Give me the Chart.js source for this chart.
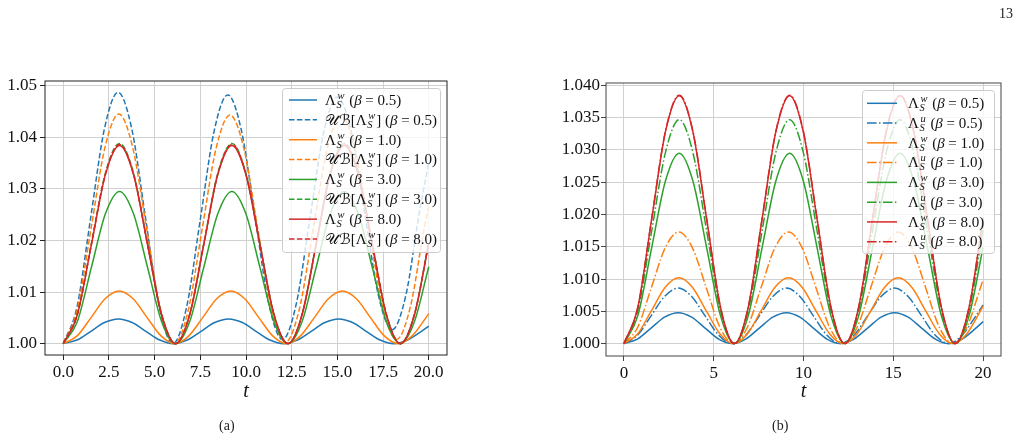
<!DOCTYPE html>
<html>
<head>
<meta charset="utf-8">
<script src="https://cdn.jsdelivr.net/npm/chart.js@4.4.0/dist/chart.umd.min.js"></script>
<style>
  body { margin: 0; width: 1019px; height: 439px; background: #fff; position: relative; overflow: hidden; font-family: 'Liberation Serif', serif; color: #222; }
  canvas { position: absolute; top: 0; }
  #chartA { left: 0; }
  #chartB { left: 520px; }
  .cap { position: absolute; font-size: 14px; line-height: 14px; }
</style>
</head>
<body>
<canvas id="chartA" width="520" height="439"></canvas>
<canvas id="chartB" width="499" height="439"></canvas>
<div class="cap" style="left:999px;top:7px">13</div>
<div class="cap" style="left:219px;top:419px">(a)</div>
<div class="cap" style="left:772px;top:419px">(b)</div>
<script>
// ==================== DANE ====================

// chwile t (minima, maksima i punkty pośrednie) dla każdej rodziny krzywych
const tB05 = [0, 0.75, 1.51, 2.26, 3.02, 3.77, 4.52, 5.28, 6.03, 6.78, 7.54, 8.29, 9.05, 9.80, 10.55, 11.31, 12.06, 12.81, 13.57, 14.32, 15.08, 15.83, 16.58, 17.34, 18.09, 18.84, 19.60, 20.0];
const tB10 = [0, 0.76, 1.53, 2.29, 3.06, 3.82, 4.58, 5.35, 6.11, 6.87, 7.64, 8.40, 9.17, 9.93, 10.69, 11.46, 12.22, 12.98, 13.75, 14.51, 15.28, 16.04, 16.80, 17.57, 18.33, 19.09, 19.86, 20.0];
const tB30 = [0, 0.77, 1.54, 2.31, 3.08, 3.84, 4.61, 5.38, 6.15, 6.92, 7.69, 8.46, 9.23, 9.99, 10.76, 11.53, 12.30, 13.07, 13.84, 14.61, 15.38, 16.14, 16.91, 17.68, 18.45, 19.22, 20.0];
const tUB05 = [0, 0.75, 1.5, 2.25, 3.0, 3.75, 4.5, 5.25, 6.0, 6.75, 7.5, 8.25, 9.0, 9.75, 10.5, 11.25, 12.0, 12.75, 13.5, 14.25, 15.0, 15.75, 16.5, 17.25, 18.0, 18.75, 19.5, 20.0];
const tUB10 = [0, 0.76, 1.52, 2.28, 3.04, 3.80, 4.56, 5.32, 6.08, 6.84, 7.60, 8.36, 9.12, 9.88, 10.64, 11.40, 12.16, 12.92, 13.68, 14.44, 15.20, 15.96, 16.72, 17.48, 18.24, 19.00, 19.76, 20.0];

// Λ_S^w (linie ciągłe, oba wykresy)
const lamW05 = [1.0000, 1.0007, 1.0024, 1.0041, 1.0048, 1.0041, 1.0024, 1.0007,
                1.0000, 1.0007, 1.0024, 1.0041, 1.0048, 1.0041, 1.0024, 1.0007,
                1.0000, 1.0007, 1.0024, 1.0041, 1.0048, 1.0041, 1.0024, 1.0007,
                1.0000, 1.0007, 1.0024, 1.0034];
const lamW10 = [1.0000, 1.0015, 1.0051, 1.0087, 1.0102, 1.0087, 1.0051, 1.0015,
                1.0000, 1.0015, 1.0051, 1.0087, 1.0102, 1.0087, 1.0051, 1.0015,
                1.0000, 1.0015, 1.0051, 1.0087, 1.0102, 1.0087, 1.0051, 1.0015,
                1.0000, 1.0015, 1.0051, 1.0058];
const lamW30 = [1.0000, 1.0043, 1.0148, 1.0252, 1.0295, 1.0252, 1.0148, 1.0043,
                1.0000, 1.0043, 1.0148, 1.0252, 1.0295, 1.0252, 1.0148, 1.0043,
                1.0000, 1.0043, 1.0148, 1.0252, 1.0295, 1.0252, 1.0148, 1.0043,
                1.0000, 1.0043, 1.0149];
const lamW80 = [1.0000, 1.0056, 1.0192, 1.0328, 1.0384, 1.0328, 1.0192, 1.0056,
                1.0000, 1.0056, 1.0192, 1.0328, 1.0384, 1.0328, 1.0192, 1.0056,
                1.0000, 1.0056, 1.0192, 1.0328, 1.0384, 1.0328, 1.0192, 1.0056,
                1.0000, 1.0056, 1.0194];

// UB[Λ_S^w] (linie przerywane, wykres a)
const ub05 = [1.0000, 1.0071, 1.0244, 1.0416, 1.0487, 1.0416, 1.0244, 1.0071,
              1.0000, 1.0071, 1.0241, 1.0411, 1.0482, 1.0413, 1.0245, 1.0077,
              1.0008, 1.0077, 1.0243, 1.0409, 1.0478, 1.0412, 1.0253, 1.0093,
              1.0027, 1.0094, 1.0257, 1.0350];
const ub10 = [1.0000, 1.0065, 1.0223, 1.0380, 1.0445, 1.0380, 1.0223, 1.0065,
              1.0000, 1.0065, 1.0222, 1.0378, 1.0443, 1.0379, 1.0223, 1.0067,
              1.0003, 1.0067, 1.0222, 1.0377, 1.0441, 1.0378, 1.0225, 1.0071,
              1.0008, 1.0072, 1.0225, 1.0265];
const ub30 = [1.0000, 1.0057, 1.0194, 1.0331, 1.0388, 1.0331, 1.0194, 1.0057,
              1.0000, 1.0057, 1.0194, 1.0331, 1.0388, 1.0331, 1.0194, 1.0057,
              1.0000, 1.0057, 1.0194, 1.0331, 1.0388, 1.0331, 1.0194, 1.0057,
              1.0000, 1.0057, 1.0196];
const ub80 = [1.0000, 1.0057, 1.0193, 1.0329, 1.0386, 1.0329, 1.0193, 1.0057,
              1.0000, 1.0057, 1.0193, 1.0329, 1.0386, 1.0329, 1.0193, 1.0057,
              1.0000, 1.0057, 1.0193, 1.0329, 1.0386, 1.0329, 1.0193, 1.0057,
              1.0000, 1.0057, 1.0195];

// Λ_S^u (linie kreska-kropka, wykres b)
const lamU05 = [1.0000, 1.0013, 1.0043, 1.0073, 1.0086, 1.0073, 1.0043, 1.0013,
                1.0000, 1.0013, 1.0043, 1.0073, 1.0086, 1.0073, 1.0043, 1.0013,
                1.0000, 1.0013, 1.0043, 1.0073, 1.0086, 1.0073, 1.0043, 1.0013,
                1.0000, 1.0013, 1.0043, 1.0060];
const lamU10 = [1.0000, 1.0025, 1.0087, 1.0148, 1.0173, 1.0148, 1.0087, 1.0025,
                1.0000, 1.0025, 1.0087, 1.0148, 1.0173, 1.0148, 1.0087, 1.0025,
                1.0000, 1.0025, 1.0087, 1.0148, 1.0173, 1.0148, 1.0087, 1.0025,
                1.0000, 1.0025, 1.0087, 1.0099];
const lamU30 = [1.0000, 1.0051, 1.0174, 1.0296, 1.0347, 1.0296, 1.0174, 1.0051,
                1.0000, 1.0051, 1.0174, 1.0296, 1.0347, 1.0296, 1.0174, 1.0051,
                1.0000, 1.0051, 1.0174, 1.0296, 1.0347, 1.0296, 1.0174, 1.0051,
                1.0000, 1.0051, 1.0176];
const lamU80 = [1.0000, 1.0056, 1.0193, 1.0329, 1.0385, 1.0329, 1.0193, 1.0056,
                1.0000, 1.0056, 1.0193, 1.0329, 1.0385, 1.0329, 1.0193, 1.0056,
                1.0000, 1.0056, 1.0193, 1.0329, 1.0385, 1.0329, 1.0193, 1.0056,
                1.0000, 1.0056, 1.0195];

const betas = ['0.5', '1.0', '3.0', '8.0'];

// osie
const xTicksA = [0, 2.5, 5, 7.5, 10, 12.5, 15, 17.5, 20];
const xLabelsA = ['0.0', '2.5', '5.0', '7.5', '10.0', '12.5', '15.0', '17.5', '20.0'];
const yTicksA = [1.00, 1.01, 1.02, 1.03, 1.04, 1.05];
const yLabelsA = ['1.00', '1.01', '1.02', '1.03', '1.04', '1.05'];
const xTicksB = [0, 5, 10, 15, 20];
const xLabelsB = ['0', '5', '10', '15', '20'];
const yTicksB = [1.000, 1.005, 1.010, 1.015, 1.020, 1.025, 1.030, 1.035, 1.040];
const yLabelsB = ['1.000', '1.005', '1.010', '1.015', '1.020', '1.025', '1.030', '1.035', '1.040'];

// ==================== STYL ====================

const COLORS = ['#1f77b4', '#ff7f0e', '#2ca02c', '#d62728'];
const SOLID = [];
const DASHED = [5.5, 2.4];
const DASHDOT = [9.6, 2.4, 1.5, 2.4];
const SERIF = "'Liberation Serif', 'DejaVu Serif', serif";
const CAL = "'DejaVu Serif', 'DejaVu Sans', serif";

// ==================== TEKST MATEMATYCZNY ====================

function lamTokens(sup) {
    return [{ s: 'Λ' }, { sup: sup, sub: 'S' }];
}

function betaTokens(b) {
    return [{ s: ' (' }, { s: 'β', it: true }, { s: ' = ' + b + ')' }];
}

function drawMath(ctx, x, y, tokens, size) {
    let cx = x;
    tokens.forEach(tok => {
        if (tok.sup !== undefined) {
            const s = size * 0.7;
            ctx.font = `italic ${s}px ${SERIF}`;
            const w1 = ctx.measureText(tok.sup).width;
            const w2 = ctx.measureText(tok.sub).width;
            ctx.fillText(tok.sup, cx + 1.5, y - size * 0.4);
            ctx.fillText(tok.sub, cx + 0.5, y + size * 0.2);
            cx += Math.max(w1 + 1.5, w2 + 0.5) + 1;
        } else {
            ctx.font = `${tok.it ? 'italic ' : ''}${size}px ${tok.cal ? CAL : SERIF}`;
            ctx.fillText(tok.s, cx, y);
            cx += ctx.measureText(tok.s).width;
        }
    });
}

function drawLegend(ctx, L) {
    ctx.save();
    ctx.beginPath();
    ctx.roundRect(L.x + 0.5, L.y + 0.5, L.w, L.h, 3);
    ctx.fillStyle = 'rgba(255,255,255,0.8)';
    ctx.fill();
    ctx.strokeStyle = '#cccccc';
    ctx.lineWidth = 1;
    ctx.stroke();
    L.items.forEach((it, i) => {
        const cy = L.rowY + i * L.rowGap;
        ctx.beginPath();
        ctx.setLineDash(it.dash);
        ctx.strokeStyle = it.color;
        ctx.lineWidth = 1.5;
        ctx.moveTo(L.lineX0, cy);
        ctx.lineTo(L.lineX1, cy);
        ctx.stroke();
        ctx.setLineDash([]);
        ctx.fillStyle = '#111';
        ctx.textBaseline = 'alphabetic';
        ctx.textAlign = 'left';
        drawMath(ctx, L.textX, cy + L.size * 0.32, it.tokens, L.size);
    });
    ctx.restore();
}

function framePlugin(color, legend) {
    return {
        id: 'frameLegend',
        afterDatasetsDraw(chart) {
            const { ctx, chartArea: a } = chart;
            ctx.save();
            ctx.strokeStyle = color;
            ctx.lineWidth = 1;
            ctx.strokeRect(a.left, a.top, a.right - a.left, a.bottom - a.top);
            ctx.restore();
        },
        afterDraw(chart) {
            drawLegend(chart.ctx, legend);
        }
    };
}

// ==================== WYKRESY ====================

function series(t, vals, color, dash, i) {
    return {
        data: t.map((x, k) => ({ x: x, y: vals[k] })),
        borderColor: color,
        borderWidth: 1.5,
        borderDash: dash,
        pointRadius: 0,
        fill: false,
        cubicInterpolationMode: 'monotone',
        order: 10 - i
    };
}

function axes(o) {
    const tickFont = { family: SERIF, size: 17 };
    return {
        x: {
            type: 'linear', min: -1, max: 21,
            afterBuildTicks: s => { s.ticks = o.xTicks.map(v => ({ value: v })); },
            afterFit: s => { s.height = o.xHeight; },
            ticks: { font: tickFont, color: '#111', padding: 2, maxRotation: 0,
                     callback: (v, i) => o.xLabels[i] },
            grid: { color: '#d0d0d0', lineWidth: 1, tickLength: 5, tickColor: o.frame, tickWidth: 1 },
            border: { display: false },
            title: { display: true, text: 't', color: '#111',
                     font: { family: SERIF, size: 20, style: 'italic' },
                     padding: { top: 0, bottom: 35 } }
        },
        y: {
            type: 'linear', min: o.yMin, max: o.yMax,
            afterBuildTicks: s => { s.ticks = o.yTicks.map(v => ({ value: v })); },
            afterFit: s => { s.width = o.yWidth; },
            ticks: { font: tickFont, color: '#111', padding: o.yPad,
                     callback: (v, i) => o.yLabels[i] },
            grid: { color: '#d0d0d0', lineWidth: 1, tickLength: 5, tickColor: o.frame, tickWidth: 1 },
            border: { display: false }
        }
    };
}

const commonOptions = {
    responsive: false,
    animation: false,
    devicePixelRatio: 1,
    plugins: { legend: { display: false }, tooltip: { enabled: false } }
};

// wykres (a)
const dataA = [
    series(tB05, lamW05, COLORS[0], SOLID, 0),
    series(tUB05, ub05, COLORS[0], DASHED, 1),
    series(tB10, lamW10, COLORS[1], SOLID, 2),
    series(tUB10, ub10, COLORS[1], DASHED, 3),
    series(tB30, lamW30, COLORS[2], SOLID, 4),
    series(tB30, ub30, COLORS[2], DASHED, 5),
    series(tB30, lamW80, COLORS[3], SOLID, 6),
    series(tB30, ub80, COLORS[3], DASHED, 7)
];

const legendA = {
    x: 282, y: 88, w: 158, h: 164,
    rowY: 100, rowGap: 19.86, lineX0: 289, lineX1: 317, textX: 325, size: 15,
    items: betas.flatMap((b, i) => [
        { color: COLORS[i], dash: SOLID, tokens: [...lamTokens('w'), ...betaTokens(b)] },
        { color: COLORS[i], dash: DASHED,
          tokens: [{ s: '𝒰ℬ', cal: true }, { s: '[' }, ...lamTokens('w'), { s: ']' }, ...betaTokens(b)] }
    ])
};

new Chart(document.getElementById('chartA'), {
    type: 'line',
    data: { datasets: dataA },
    options: {
        ...commonOptions,
        layout: { padding: { left: 0, top: 81, right: 73, bottom: 0 } },
        scales: axes({ xTicks: xTicksA, xLabels: xLabelsA, yTicks: yTicksA, yLabels: yLabelsA,
                       yMin: 0.9978, yMax: 1.0509, xHeight: 84, yWidth: 45, yPad: 3, frame: '#222' })
    },
    plugins: [framePlugin('#222', legendA)]
});

// wykres (b)
const dataB = [
    series(tB05, lamW05, COLORS[0], SOLID, 0),
    series(tB05, lamU05, COLORS[0], DASHDOT, 1),
    series(tB10, lamW10, COLORS[1], SOLID, 2),
    series(tB10, lamU10, COLORS[1], DASHDOT, 3),
    series(tB30, lamW30, COLORS[2], SOLID, 4),
    series(tB30, lamU30, COLORS[2], DASHDOT, 5),
    series(tB30, lamW80, COLORS[3], SOLID, 6),
    series(tB30, lamU80, COLORS[3], DASHDOT, 7)
];

const legendB = {
    x: 342, y: 90, w: 132, h: 163,
    rowY: 103.3, rowGap: 19.77, lineX0: 347, lineX1: 377, textX: 388, size: 15,
    items: betas.flatMap((b, i) => [
        { color: COLORS[i], dash: SOLID, tokens: [...lamTokens('w'), ...betaTokens(b)] },
        { color: COLORS[i], dash: DASHDOT, tokens: [...lamTokens('u'), ...betaTokens(b)] }
    ])
};

new Chart(document.getElementById('chartB'), {
    type: 'line',
    data: { datasets: dataB },
    options: {
        ...commonOptions,
        layout: { padding: { left: 0, top: 83, right: 18, bottom: 0 } },
        scales: axes({ xTicks: xTicksB, xLabels: xLabelsB, yTicks: yTicksB, yLabels: yLabelsB,
                       yMin: 0.99808, yMax: 1.04038, xHeight: 83, yWidth: 86, yPad: 1, frame: '#444' })
    },
    plugins: [framePlugin('#444', legendB)]
});
</script>
</body>
</html>
